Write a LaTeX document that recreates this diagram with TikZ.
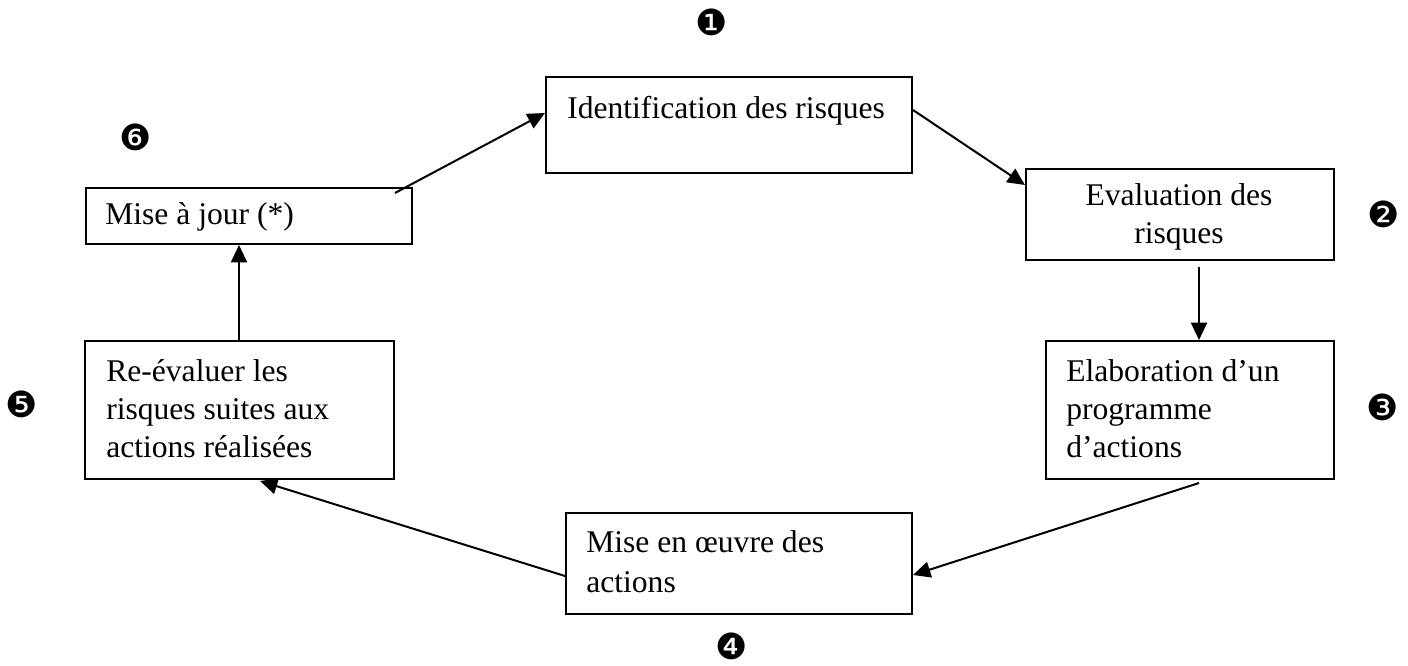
\documentclass[tikz,border=0pt]{standalone}
\usepackage{fontspec}
\setmainfont{Liberation Serif}
\newfontfamily\dingfont{DejaVu Sans}
\usetikzlibrary{arrows.meta,calc}
\newcommand\mytxt[2]{\parbox[t]{#1}{#2}}
\begin{document}
\begin{tikzpicture}[x=0.75pt,y=-0.75pt,
  box/.style={draw, line width=1.5pt, rectangle, anchor=north west, inner sep=0pt},
  txt/.style={inner sep=0pt, font=\fontsize{23.7}{28.5}\selectfont},
  num/.style={inner sep=0pt, font=\dingfont\fontsize{27}{27}\selectfont},
  arr/.style={line width=1.5pt, -{Triangle[length=13pt,width=12pt]}}]
\useasboundingbox (0,0) rectangle (1408,666);
% boxes
\node[box, minimum width=366*0.75pt, minimum height=96*0.75pt] (id) at (545,76) {};
\node[box, minimum width=308*0.75pt, minimum height=91*0.75pt] (eval) at (1025,168) {};
\node[box, minimum width=288*0.75pt, minimum height=138*0.75pt] (elab) at (1045,340) {};
\node[box, minimum width=346*0.75pt, minimum height=101*0.75pt] (meo) at (565,512) {};
\node[box, minimum width=309*0.75pt, minimum height=138*0.75pt] (re) at (84,340) {};
\node[box, minimum width=326*0.75pt, minimum height=56*0.75pt] (maj) at (85,187) {};
% texts
\node[txt, anchor=base west] (tid) at (567,119) {\mytxt{300pt}{Identification des risques}};
\node[txt, anchor=base] (teval) at (1179,206) {\mytxt{210pt}{\centering Evaluation des\\risques}};
\node[txt, anchor=base west] (telab) at (1066,381) {\mytxt{200pt}{Elaboration d’un\\programme\\d’actions}};
\node[txt, anchor=base west] (tmeo) at (586,552) {\mytxt{250pt}{Mise en œuvre des\\[2pt]actions}};
\node[txt, anchor=base west] (tre) at (106,381) {\mytxt{220pt}{Re-évaluer les\\risques suites aux\\actions réalisées}};
\node[txt, anchor=base west] (tmaj) at (105,225) {\mytxt{240pt}{Mise à jour (*)}};
% numbers
\node[num] (n1) at (712,22) {❶};
\node[num] (n2) at (1384,214) {❷};
\node[num] (n3) at (1383,407) {❸};
\node[num] (n4) at (732,646) {❹};
\node[num] (n5) at (22,404) {❺};
\node[num] (n6) at (136,137) {❻};
% connectors
\draw[arr] ($(maj.north east)+(-18,6)$) -- ($(id.north west)+(0,37)$);
\draw[arr] ($(id.north east)+(0,34)$) -- ($(eval.north west)+(0,17)$);
\draw[arr] ($(eval.south west)+(174,6)$) -- ($(elab.north west)+(154,0)$);
\draw[arr] ($(elab.south west)+(154,3)$) -- ($(meo.north east)+(0,63)$);
\draw[arr] ($(meo.north west)+(0,64)$) -- ($(re.south west)+(176,1)$);
\draw[arr] ($(re.north west)+(155,0)$) -- ($(maj.south west)+(154,0)$);
\end{tikzpicture}
\end{document}
